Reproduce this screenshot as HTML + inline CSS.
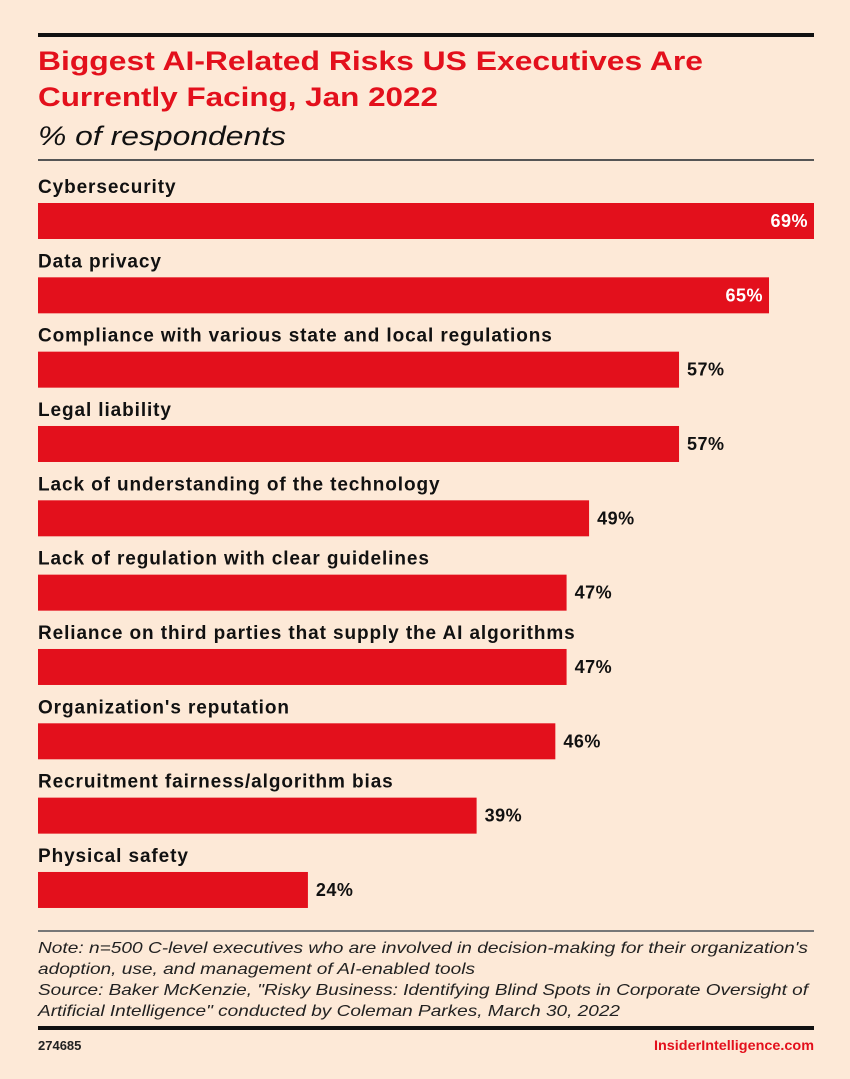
<!DOCTYPE html>
<html><head><meta charset="utf-8"><style>
html,body{margin:0;padding:0;background:#fde9d7;}
svg{display:block;font-family:"Liberation Sans",sans-serif;}
</style></head><body>
<svg id="chart" width="850" height="1079" viewBox="0 0 850 1079">
<rect width="850" height="1079" fill="#fde9d7"/>
<rect x="38" y="33" width="776" height="4" fill="#111"/>
<text x="38" y="70" font-size="27" font-weight="bold" fill="#e3101c" textLength="665" lengthAdjust="spacingAndGlyphs">Biggest AI-Related Risks US Executives Are</text>
<text x="38" y="106" font-size="27" font-weight="bold" fill="#e3101c" textLength="400" lengthAdjust="spacingAndGlyphs">Currently Facing, Jan 2022</text>
<text x="38" y="145" font-size="27" font-style="italic" fill="#111" textLength="248" lengthAdjust="spacingAndGlyphs">% of respondents</text>
<rect x="38" y="159" width="776" height="2" fill="#555"/>
<g id="bars"></g>
<rect x="38" y="930" width="776" height="2" fill="#777"/>
<g font-size="16" font-style="italic" fill="#222">
<text x="38" y="953" textLength="770" lengthAdjust="spacingAndGlyphs">Note: n=500 C-level executives who are involved in decision-making for their organization's</text>
<text x="38" y="974" textLength="437" lengthAdjust="spacingAndGlyphs">adoption, use, and management of AI-enabled tools</text>
<text x="38" y="995" textLength="770" lengthAdjust="spacingAndGlyphs">Source: Baker McKenzie, "Risky Business: Identifying Blind Spots in Corporate Oversight of</text>
<text x="38" y="1016" textLength="582" lengthAdjust="spacingAndGlyphs">Artificial Intelligence" conducted by Coleman Parkes, March 30, 2022</text>
</g>
<rect x="38" y="1026" width="776" height="4" fill="#111"/>
<text x="38" y="1050" font-size="13" font-weight="bold" fill="#222">274685</text>
<text x="814" y="1050" font-size="14" font-weight="bold" fill="#e3101c" text-anchor="end" textLength="160" lengthAdjust="spacingAndGlyphs">InsiderIntelligence.com</text>
</svg>
<script>
const categories=["Cybersecurity","Data privacy","Compliance with various state and local regulations","Legal liability","Lack of understanding of the technology","Lack of regulation with clear guidelines","Reliance on third parties that supply the AI algorithms","Organization's reputation","Recruitment fairness/algorithm bias","Physical safety"];
const values=[69,65,57,57,49,47,47,46,39,24];
const xMax=69;
const NS="http://www.w3.org/2000/svg";
const g=document.getElementById("bars");
const x0=38,plotW=776,rowTop=203,pitch=74.33,barH=36;
function xScale(v){return v/xMax*plotW;}
function yRow(i){return rowTop+i*pitch;}
categories.forEach((c,i)=>{
  const y=yRow(i), w=xScale(values[i]);
  const lab=document.createElementNS(NS,"text");
  lab.setAttribute("x",x0);lab.setAttribute("y",y-10);
  lab.setAttribute("font-size","19");lab.setAttribute("font-weight","bold");lab.setAttribute("fill","#111");
  lab.setAttribute("letter-spacing","0.9");
  lab.textContent=c;
  
  
  g.appendChild(lab);
  const r=document.createElementNS(NS,"rect");
  r.setAttribute("x",x0);r.setAttribute("y",y);r.setAttribute("width",w);r.setAttribute("height",barH);r.setAttribute("fill","#e3101c");
  
  
  g.appendChild(r);
  const v=document.createElementNS(NS,"text");
  const inside=values[i]>=60;
  v.setAttribute("x",inside?x0+w-6:x0+w+8);
  v.setAttribute("y",y+barH/2+6);
  v.setAttribute("font-size","18");v.setAttribute("font-weight","bold");
  v.setAttribute("letter-spacing","0.5");
  v.setAttribute("fill",inside?"#fff":"#111");
  if(inside)v.setAttribute("text-anchor","end");
  v.textContent=values[i]+"%";
  
  
  g.appendChild(v);
});
</script>
</body></html>
